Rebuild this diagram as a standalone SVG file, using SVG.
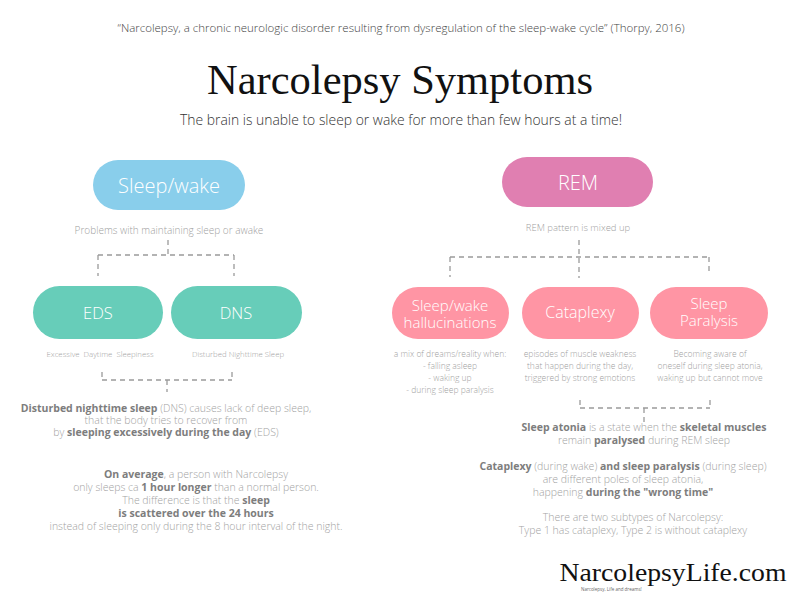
<svg xmlns="http://www.w3.org/2000/svg" width="800" height="600" viewBox="0 0 800 600">
<style>
  .sans { font-family: "Open Sans", "Liberation Sans", sans-serif; }
  .serif { font-family: "Liberation Serif", "DejaVu Serif", serif; }
  .pilltxt { font-family: "Open Sans", "Liberation Sans", sans-serif; fill: #ffffff; font-weight: 300; text-anchor: middle; }
  .note { font-family: "Open Sans", "Liberation Sans", sans-serif; fill: #9f9f9f; font-weight: 300; text-anchor: middle; }
  .body { font-family: "Open Sans", "Liberation Sans", sans-serif; fill: #a3a3a3; font-weight: 300; text-anchor: middle; font-size: 10.5px; }
  .b { font-weight: 700; fill: #7d7d7d; }
  .dash { fill: none; stroke: #9a9a9a; stroke-width: 1.3; stroke-dasharray: 5 4; }
</style>
<rect width="800" height="600" fill="#ffffff"/>

<g id="header">
  <text x="401" y="32" class="sans" font-size="10.5" font-weight="300" fill="#444" text-anchor="middle" textLength="567" lengthAdjust="spacingAndGlyphs">“Narcolepsy, a chronic neurologic disorder resulting from dysregulation of the sleep-wake cycle” (Thorpy, 2016)</text>
  <text x="400" y="94" class="serif" font-size="42" fill="#111" text-anchor="middle" textLength="386" lengthAdjust="spacingAndGlyphs">Narcolepsy Symptoms</text>
  <text x="401" y="125" class="sans" font-size="14" font-weight="300" fill="#333" text-anchor="middle" textLength="442" lengthAdjust="spacingAndGlyphs">The brain is unable to sleep or wake for more than few hours at a time!</text>
</g>

<g id="connectors">
  <path class="dash" d="M168 240 V255 M98 255 H234 M98 255 V276 M234 255 V276"/>
  <path class="dash" d="M102 372 V380 M232 372 V380 M102 380 H232 M167 380 V392"/>
  <path class="dash" d="M579 240 V278 M450 257 H709 M450 257 V277 M709 257 V274"/>
  <path class="dash" d="M580 400 V408 M710 400 V408 M580 408 H710 M644 408 V423"/>
</g>

<g id="node-sleepwake">
  <rect x="93" y="160" width="152" height="50" rx="25" fill="#89CEEB"/>
  <text x="169" y="193" class="pilltxt" font-size="20">Sleep/wake</text>
  <text x="169" y="234" class="note" font-size="10">Problems with maintaining sleep or awake</text>
</g>

<g id="node-eds">
  <rect x="33" y="286" width="130" height="53" rx="26.5" fill="#67CDB9"/>
  <text x="98" y="319" class="pilltxt" font-size="16.5">EDS</text>
  <text x="100" y="357" class="note" font-size="7.8" xml:space="preserve">Excessive  Daytime  Sleepiness</text>
</g>

<g id="node-dns">
  <rect x="171" y="286" width="131" height="53" rx="26.5" fill="#67CDB9"/>
  <text x="236" y="319" class="pilltxt" font-size="16.5">DNS</text>
  <text x="238" y="357" class="note" font-size="7.8">Disturbed Nighttime Sleep</text>
</g>

<g id="node-rem">
  <rect x="502" y="157" width="151" height="50" rx="25" fill="#E07FB1"/>
  <text x="578" y="190" class="pilltxt" font-size="20">REM</text>
  <text x="578" y="231" class="note" font-size="9.5">REM pattern is mixed up</text>
</g>

<g id="node-hallucinations">
  <rect x="392" y="287" width="117" height="52" rx="26" fill="#FF95A4"/>
  <text x="450" y="311" class="pilltxt" font-size="15">Sleep/wake</text>
  <text x="450" y="328" class="pilltxt" font-size="15">hallucinations</text>
  <g class="note" font-size="8.5">
    <text x="450" y="357">a mix of dreams/reality when:</text>
    <text x="450" y="369">- falling asleep</text>
    <text x="450" y="381">- waking up</text>
    <text x="450" y="393">- during sleep paralysis</text>
  </g>
</g>

<g id="node-cataplexy">
  <rect x="522" y="287" width="117" height="52" rx="26" fill="#FF95A4"/>
  <text x="580" y="318" class="pilltxt" font-size="16">Cataplexy</text>
  <g class="note" font-size="8.5">
    <text x="580" y="357">episodes of muscle weakness</text>
    <text x="580" y="369">that happen during the day,</text>
    <text x="580" y="381">triggered by strong emotions</text>
  </g>
</g>

<g id="node-paralysis">
  <rect x="650" y="287" width="118" height="52" rx="26" fill="#FF95A4"/>
  <text x="709" y="309" class="pilltxt" font-size="15">Sleep</text>
  <text x="709" y="326" class="pilltxt" font-size="15">Paralysis</text>
  <g class="note" font-size="8.5">
    <text x="710" y="357">Becoming aware of</text>
    <text x="710" y="369">oneself during sleep atonia,</text>
    <text x="710" y="381">waking up but cannot move</text>
  </g>
</g>

<g id="text-left">
  <text x="166" y="412" class="body"><tspan class="b">Disturbed nighttime sleep</tspan> (DNS) causes lack of deep sleep,</text>
  <text x="166" y="424" class="body">that the body tries to recover from</text>
  <text x="166" y="436" class="body">by <tspan class="b">sleeping excessively during the day</tspan> (EDS)</text>

  <text x="196" y="478" class="body"><tspan class="b">On average</tspan>, a person with Narcolepsy</text>
  <text x="196" y="491" class="body">only sleeps ca <tspan class="b">1 hour longer</tspan> than a normal person.</text>
  <text x="196" y="504" class="body">The difference is that the <tspan class="b">sleep</tspan></text>
  <text x="196" y="517" class="body"><tspan class="b">is scattered over the 24 hours</tspan></text>
  <text x="196" y="530" class="body">instead of sleeping only during the 8 hour interval of the night.</text>
</g>

<g id="text-right">
  <text x="644" y="431" class="body"><tspan class="b">Sleep atonia</tspan> is a state when the <tspan class="b">skeletal muscles</tspan></text>
  <text x="644" y="444" class="body">remain <tspan class="b">paralysed</tspan> during REM sleep</text>

  <text x="623" y="470" class="body"><tspan class="b">Cataplexy</tspan> (during wake) <tspan class="b">and sleep paralysis</tspan> (during sleep)</text>
  <text x="623" y="483" class="body">are different poles of sleep atonia,</text>
  <text x="623" y="496" class="body">happening <tspan class="b">during the "wrong time"</tspan></text>

  <text x="633" y="521" class="body">There are two subtypes of Narcolepsy:</text>
  <text x="633" y="534" class="body">Type 1 has cataplexy, Type 2 is without cataplexy</text>
</g>

<g id="footer">
  <text x="673" y="581" class="serif" font-size="26" fill="#111" text-anchor="middle" textLength="227" lengthAdjust="spacingAndGlyphs">NarcolepsyLife.com</text>
  <text x="581" y="591" class="sans" font-size="4.5" fill="#666">Narcolepsy, Life and dreams!</text>
</g>
</svg>
